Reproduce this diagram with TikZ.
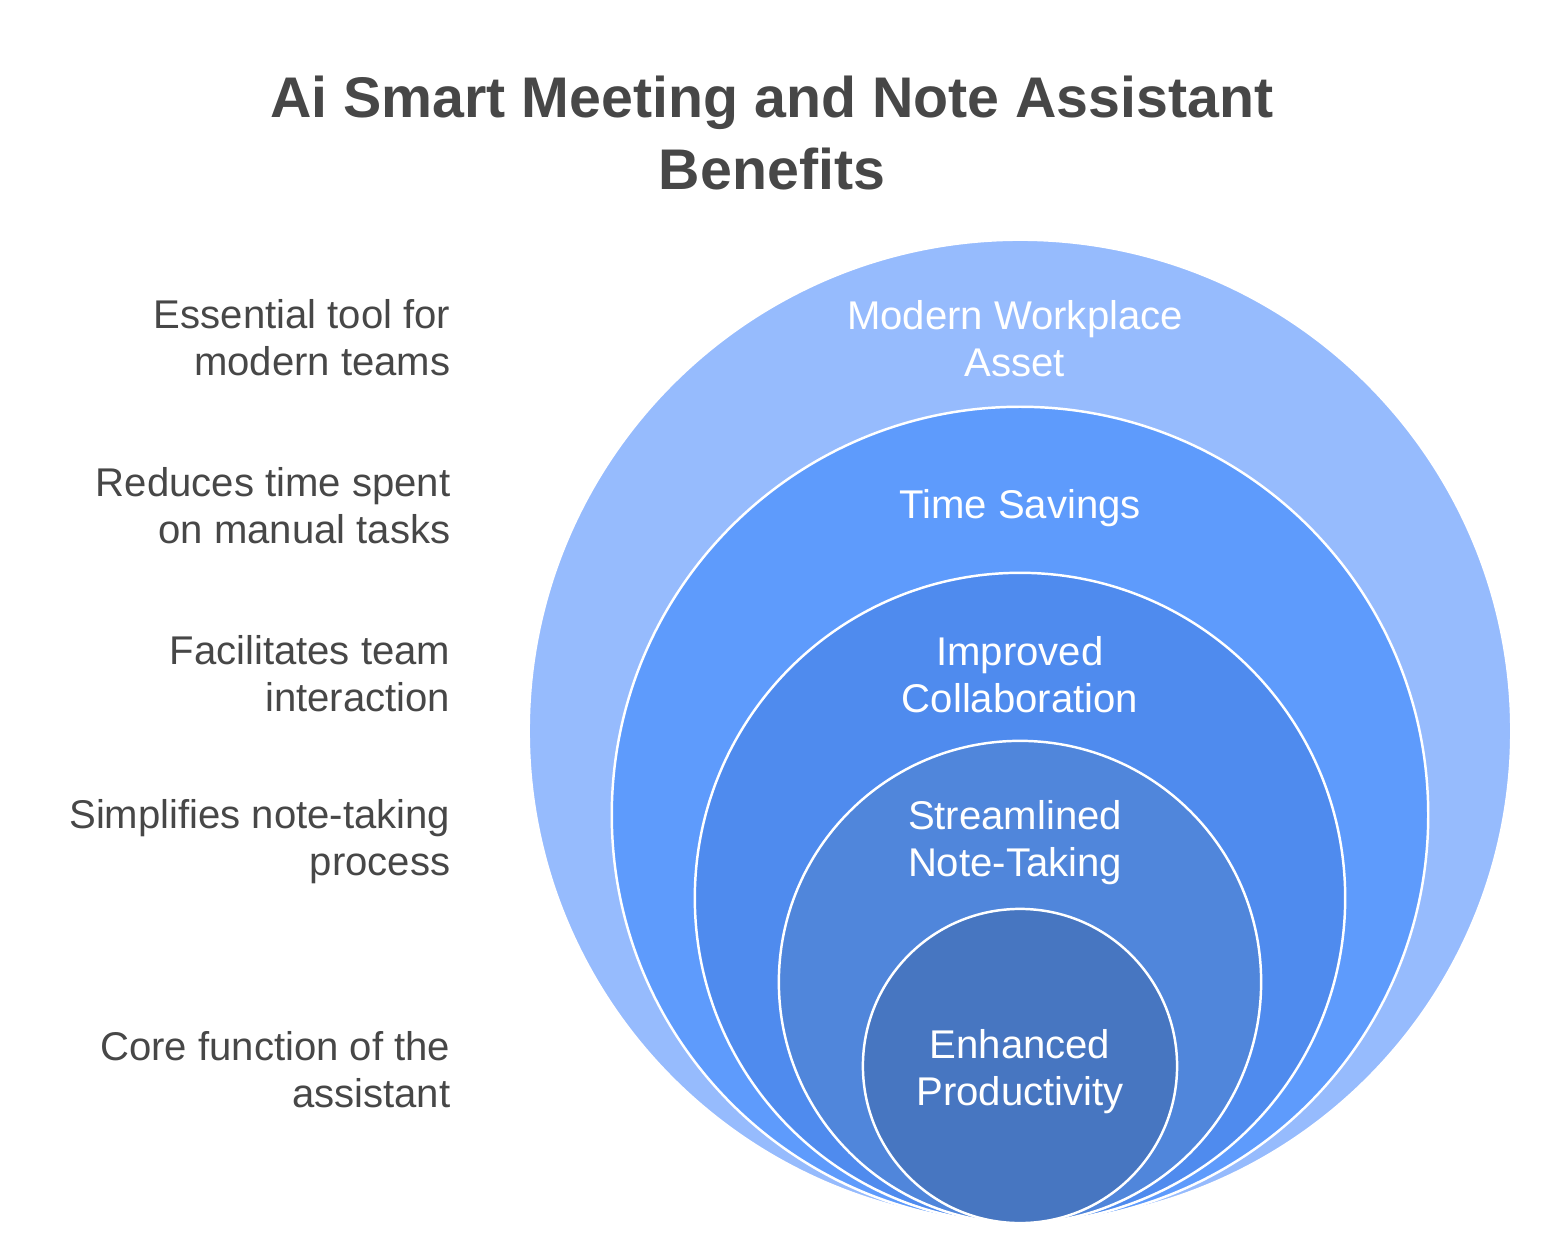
\documentclass[tikz,border=0pt]{standalone}
\usepackage{fontspec}
\setmainfont{Liberation Sans}
\usepackage{xcolor}
\usetikzlibrary{positioning,calc}

\definecolor{ringA}{HTML}{96BBFD}
\definecolor{ringB}{HTML}{5E9BFC}
\definecolor{ringC}{HTML}{4F8BEE}
\definecolor{ringD}{HTML}{5086DB}
\definecolor{ringE}{HTML}{4776C1}
\definecolor{txtgray}{HTML}{474747}

\tikzset{
  ring/.style={circle, draw=white, line width=0.7pt, inner sep=0pt},
  ringlabel/.style={align=center, text=white, font=\fontsize{11.4}{13.4}\selectfont},
  sidelabel/.style={align=right, anchor=east, inner sep=0pt, text=txtgray, font=\fontsize{11.4}{13.4}\selectfont},
}

\begin{document}
\begin{tikzpicture}[x=0.01cm, y=-0.01cm]
    \useasboundingbox (0,0) rectangle (1560,1252);

    % Title
    \node[align=center, text=txtgray, font=\bfseries\fontsize{16.3}{20.2}\selectfont] (title) at (772,133)
        {Ai Smart Meeting and Note Assistant\\Benefits};

    % Circles
    \node[ring, fill=ringA, minimum size=9.82cm] (asset) at (1020,731) {};
    \node[ring, fill=ringB, minimum size=8.16cm] (time) at (1020,815) {};
    \node[ring, fill=ringC, minimum size=6.50cm] (collab) at (1020,898) {};
    \node[ring, fill=ringD, minimum size=4.82cm] (notes) at (1020,982) {};
    \node[ring, fill=ringE, minimum size=3.14cm] (prod) at (1020,1066) {};

    % Circle labels
    \node[ringlabel] (assetlbl) at (1015,339) {Modern Workplace\\Asset};
    \node[ringlabel] (timelbl) at (1020,508) {Time Savings};
    \node[ringlabel] (collablbl) at (1020,675) {Improved\\Collaboration};
    \node[ringlabel] (noteslbl) at (1015,843) {Streamlined\\Note-Taking};
    \node[ringlabel] (prodlbl) at (1020,1072) {Enhanced\\Productivity};

    % Side labels
    \node[sidelabel] (assettxt) at (451,338) {Essential tool for\\modern teams};
    \node[sidelabel] (timetxt) at (451,506) {Reduces time spent\\on manual tasks};
    \node[sidelabel] (collabtxt) at (451,674) {Facilitates team\\interaction};
    \node[sidelabel] (notestxt) at (451,842) {Simplifies note-taking\\process};
    \node[sidelabel] (prodtxt) at (451,1070) {Core function of the\\assistant};
\end{tikzpicture}
\end{document}
